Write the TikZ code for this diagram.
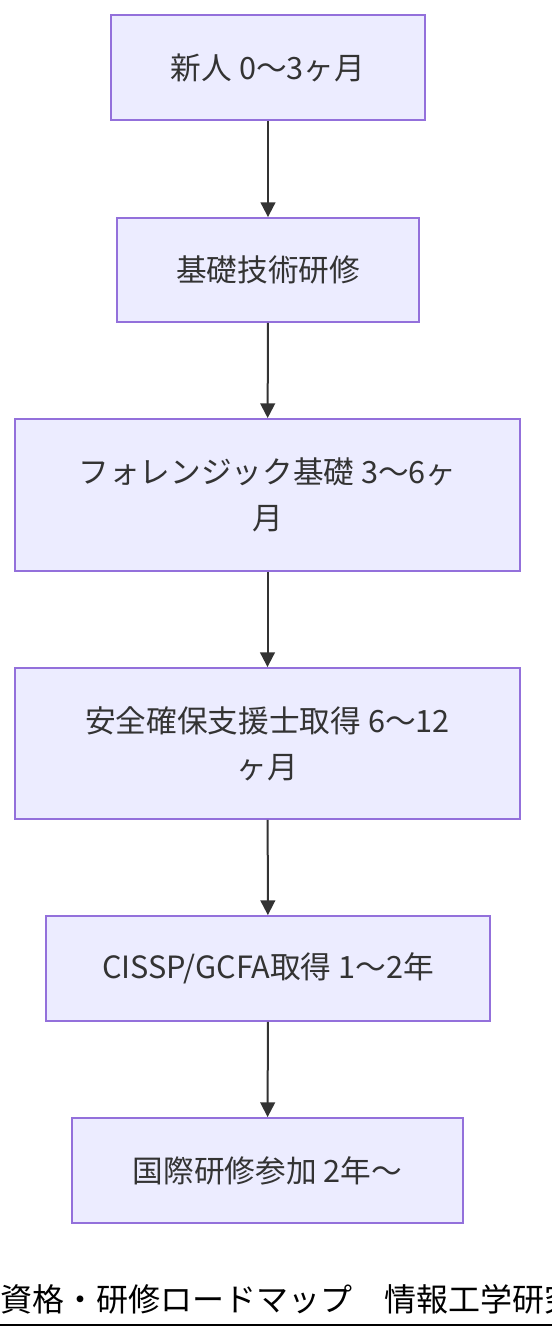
\documentclass[tikz,border=0pt]{standalone}
\usepackage{fontspec}
\setmainfont{Noto Sans CJK JP}
\usetikzlibrary{arrows.meta}

\definecolor{boxfill}{HTML}{ECECFF}
\definecolor{boxline}{HTML}{9370DB}
\definecolor{ink}{HTML}{333333}

\begin{document}
\begin{tikzpicture}[x=0.75pt,y=-0.75pt,
    stage/.style={draw=boxline, fill=boxfill, line width=1.4pt, text=ink,
        align=center, inner sep=0pt, font=\fontsize{23}{34.5}\selectfont},
    flow/.style={draw=ink, line width=1.5pt, -{Triangle[length=11pt,width=11pt]}}]

    % Fix the page size
    \useasboundingbox (0,0) rectangle (552,1340);

    % The stages, top to bottom
    \node[stage, minimum width=235.5pt, minimum height=78.75pt] (newcomer) at (268,67.5) {新人 0〜3ヶ月};
    \node[stage, minimum width=226.5pt, minimum height=78pt] (basics) at (268,270) {基礎技術研修};
    \node[stage, minimum width=378.75pt, minimum height=114pt] (forensics) at (267.5,495) {フォレンジック基礎 3〜6ヶ\\月};
    \node[stage, minimum width=378.75pt, minimum height=113.25pt] (license) at (267.5,743.5) {安全確保支援士取得 6〜12\\ヶ月};
    \node[stage, minimum width=333pt, minimum height=78.75pt] (cissp) at (268,968.5) {CISSP/GCFA取得 1〜2年};
    \node[stage, minimum width=293.25pt, minimum height=78.75pt] (intl) at (267.5,1170.5) {国際研修参加 2年〜};

    % Arrows between the stages
    \draw[flow] (newcomer) -- (basics);
    \draw[flow] (basics) -- (forensics);
    \draw[flow] (forensics) -- (license);
    \draw[flow] (license) -- (cissp);
    \draw[flow] (cissp) -- (intl);

    % Caption, cut off at the right edge as in the original
    \node[anchor=base west, inner sep=0pt, font=\fontsize{24}{28}\selectfont] (caption) at (0,1311) {資格・研修ロードマップ　情報工学研究};
    \draw[line width=1.6pt] (0,1325) -- (560,1325);

\end{tikzpicture}
\end{document}
